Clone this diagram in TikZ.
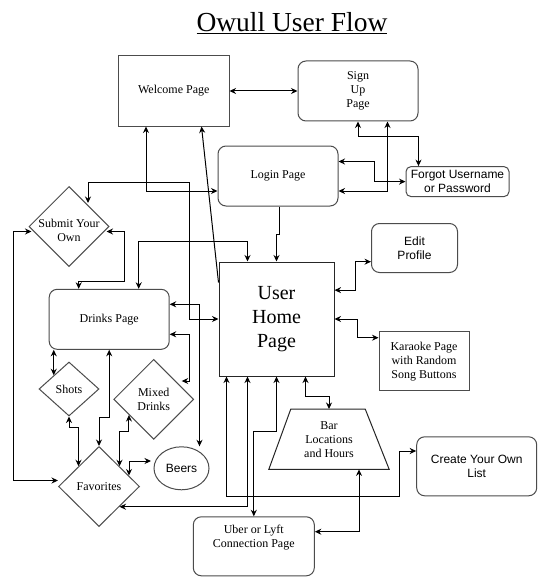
\documentclass[tikz,border=0pt]{standalone}
\usepackage{fontspec}
\setmainfont{Liberation Serif}
\newfontfamily\arialf{Liberation Sans}
\usetikzlibrary{arrows.meta,shapes.geometric}
\begin{document}
\begin{tikzpicture}[x=1pt,y=-1pt,
  every node/.style={font=\fontsize{12}{14}\selectfont, align=center},
  shp/.style={draw=black!70, line width=1pt, inner sep=0pt},
  rbox/.style={shp, rectangle, rounded corners=8pt},
  sbox/.style={shp, rectangle},
  dia/.style={shp, diamond},
  dbl/.style={line width=1pt, {Stealth[length=6.5pt,width=6pt]}-{Stealth[length=6.5pt,width=6pt]}},
  sgl/.style={line width=1pt, -{Stealth[length=6.5pt,width=6pt]}},
  sans/.style={font=\arialf\fontsize{12}{14}\selectfont},
]
\fill[white] (0,0) rectangle (544,583);
\useasboundingbox (0,0) rectangle (544,583);

% title
\node[font=\fontsize{27.5}{30}\selectfont, anchor=base] (title) at (292,32) {\underline{Owull User Flow}};

% nodes
\node[sbox, minimum width=110.5pt, minimum height=70pt] (welcome) at (173.75,91) {Welcome Page};
\node[rbox, minimum width=120pt, minimum height=60pt] (signup) at (358,91) {Sign\\Up\\Page};
\node[rbox, minimum width=120pt, minimum height=60pt] (login) at (278,176) {Login Page};
\node[rbox, rounded corners=5pt, sans, minimum width=103pt, minimum height=30pt] (forgot) at (457.5,181.6) {Forgot Username\\or Password};
\node[sbox, draw=black!85, minimum width=115pt, minimum height=114pt, font=\fontsize{20}{24}\selectfont] (home) at (276.5,319) {User\\Home\\Page};
\node[rbox, sans, minimum width=86pt, minimum height=49pt] (edit) at (414.5,248) {Edit\\Profile};
\node[sbox, minimum width=90pt, minimum height=59pt] (karaoke) at (424,361.3) {Karaoke Page\\with Random\\Song Buttons};
\node[rbox, minimum width=120pt, minimum height=60pt] (drinks) at (109.2,319.3) {Drinks Page};
\node[dia, minimum width=80pt, minimum height=80pt, label={[align=center, yshift=-4pt]center:{Submit Your\\Own}}] (submit) at (69,226.5) {};
\node[dia, minimum width=60pt, minimum height=54pt, label={[align=center]center:{Shots}}] (shots) at (69,389) {};
\node[dia, minimum width=80pt, minimum height=80pt, label={[align=center]center:{Mixed\\Drinks}}] (mixed) at (153.7,399.3) {};
\node[dia, minimum width=81pt, minimum height=80pt, label={[align=center]center:{Favorites}}] (favorites) at (99,486.5) {};
\node[shp, ellipse, sans, minimum width=55pt, minimum height=43pt] (beers) at (181.5,468.3) {Beers};
\node[minimum width=120pt, minimum height=60pt, inner sep=0pt] (bar) at (329,439.2) {Bar\\Locations\\and Hours};
\draw[draw=black!85, line width=1pt] (bar.south west) -- (bar.south east) -- ([xshift=-24pt]bar.north east) -- ([xshift=22pt]bar.north west) -- cycle;
\node[rbox, minimum width=121pt, minimum height=59pt, label={[align=center, yshift=8.5pt]center:{Uber or Lyft\\Connection Page}}] (uber) at (253.8,546.3) {};
\node[rbox, sans, minimum width=120pt, minimum height=59pt] (create) at (476.7,466.3) {Create Your Own\\List};

% connectors
\draw[dbl] (welcome.east) -- (signup.west);
\draw[dbl] ([xshift=28pt]welcome.south west) |- ([yshift=-15pt]login.west);
\draw[sgl] ([yshift=-21pt]home.north west) -- ([xshift=83.5pt]welcome.south west);
\draw[dbl] (signup.south) -- ++(0,15) -| ([xshift=13pt]forgot.north west);
\draw[dbl] ([yshift=-15pt]login.east) -| ([xshift=90pt]signup.south west);
\draw[dbl] ([yshift=14.5pt]login.east) -- ++(36,0) |- (forgot.west);
\draw[sgl] ([xshift=1.3pt]login.south) -- ++(0,28) -| (home.north);
\draw[dbl] ([xshift=29pt]home.north west) -- ++(0,-20) -| ([xshift=90pt]drinks.north west);
\draw[dbl] (home.west) -| (189.3,182) -| ([xshift=19pt,yshift=23.5pt]submit.center);
\draw[dbl] ([xshift=-3pt,yshift=-5pt]submit.east) -| (124.3,281) -| ([xshift=30pt]drinks.north west);
\draw[dbl] ([xshift=3pt,yshift=-5pt]submit.west) -- ++(-17.7,0) |- ([yshift=6pt]favorites.west);
\draw[dbl] ([yshift=15pt]drinks.east) -| ([xshift=18pt]beers.north);
\draw[dbl] ([yshift=-15pt]drinks.east) -- ++(20,0) |- ([xshift=28pt,yshift=18.3pt]mixed.center);
\draw[dbl] (drinks.south west -| shots.north west) -- (shots.north west);
\draw[dbl] (shots.south) -- ++(0,10.7) -| (favorites.north west);
\draw[dbl] (drinks.south) -- ++(0,67.4) -| (favorites.north);
\draw[dbl] ([xshift=-4.5pt,yshift=4.5pt]mixed.south west) -- ++(0,16.2) -| (favorites.north east);
\draw[dbl] ([xshift=30pt,yshift=-29.5pt]favorites.north) |- ([xshift=-2.5pt,yshift=7.3pt]beers.west);
\draw[dbl] ([xshift=29pt]home.south west) |- (favorites.south east);
\draw[dbl] ([xshift=8pt]home.south west) |- (399.3,496) |- ([yshift=15.3pt]create.west);
\draw[dbl] (home.south) -- ++(0,55) -| (uber.north);
\draw[dbl] ([xshift=87pt]home.south west) -- ++(0,20) -| (bar.north);
\draw[dbl] ([xshift=30pt]bar.south) |- ([yshift=14.6pt]uber.east);
\draw[dbl] ([yshift=28.85pt]home.east) -- ++(21,0) |- ([yshift=-13.7pt]edit.west);
\draw[dbl] (home.east) -- ++(22.7,0) |- ([yshift=23.6pt]karaoke.west);
\end{tikzpicture}
\end{document}
